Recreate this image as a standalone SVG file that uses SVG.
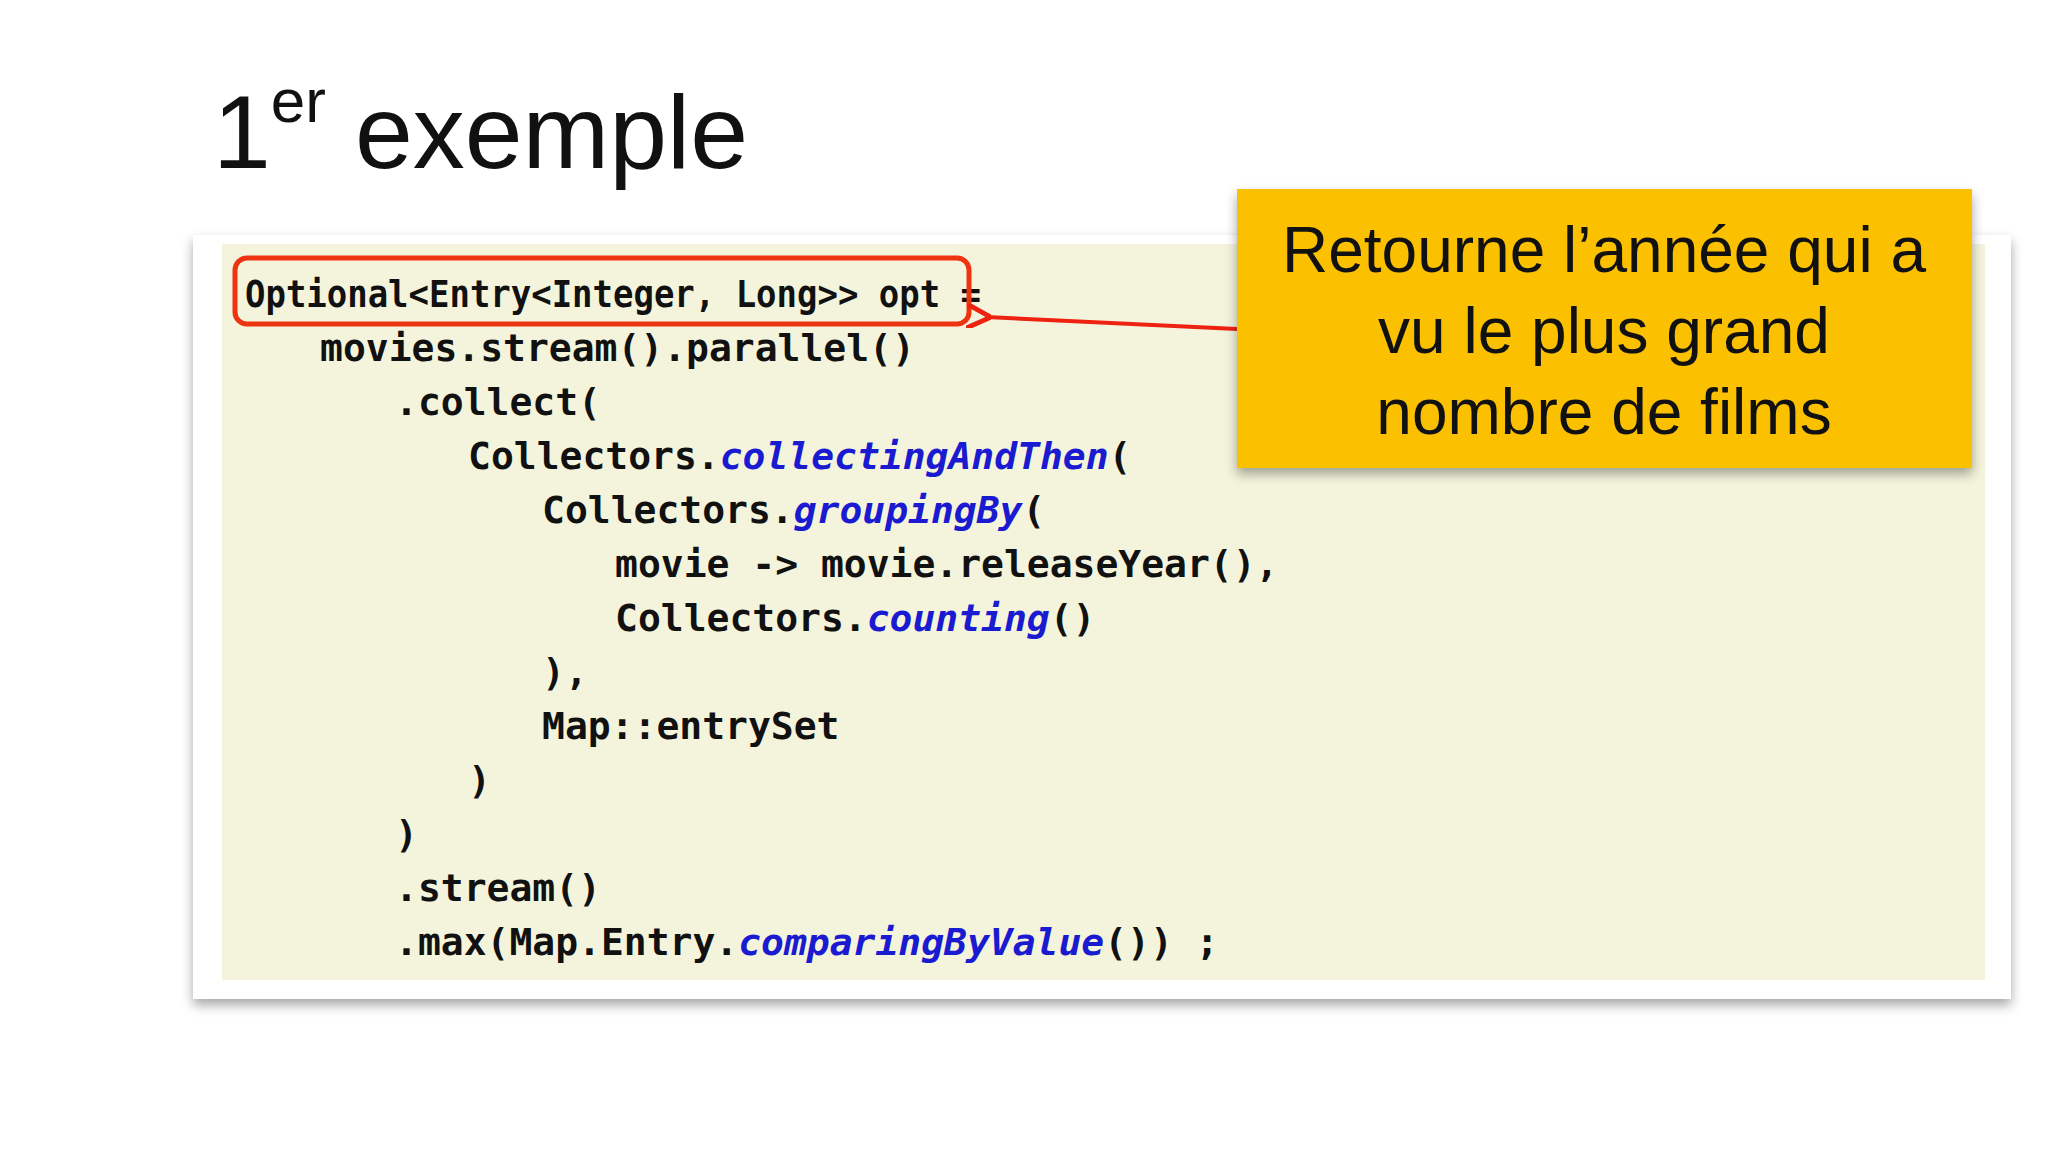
<svg xmlns="http://www.w3.org/2000/svg" width="2048" height="1152" viewBox="0 0 2048 1152">
<defs>
<style>
.code{font-family:"DejaVu Sans Mono","Liberation Mono",monospace;font-weight:bold;font-size:38px;fill:#111}
.m{fill:#1a1ad0;font-style:italic}
.note{font-family:"Liberation Sans",Arial,sans-serif;font-size:64px;fill:#111;text-anchor:middle}
</style>
<filter id="sh" x="-5%" y="-5%" width="110%" height="115%"><feDropShadow dx="0" dy="6" stdDeviation="6" flood-color="#000" flood-opacity="0.35"/></filter>
<marker id="ar" viewBox="0 0 10 10" refX="2" refY="5" markerWidth="6" markerHeight="6" orient="auto"><path d="M10,0 L0,5 L10,10" fill="none" stroke="#ee2211" stroke-width="2"/></marker>
</defs>
<rect width="2048" height="1152" fill="#fff"/>
<text x="213" y="168" font-family="Liberation Sans,Arial,sans-serif" font-size="104" fill="#111">1<tspan font-size="62" dy="-46">er</tspan><tspan dy="46"> exemple</tspan></text>
<g id="panel">
<rect x="193" y="235" width="1818" height="764" fill="#fff" filter="url(#sh)"/>
<rect x="222" y="244" width="1763" height="736" fill="#f4f4dc"/>
</g>
<g id="code" class="code">
<text x="245" y="307" textLength="736" lengthAdjust="spacingAndGlyphs">Optional&lt;Entry&lt;Integer, Long&gt;&gt; opt =</text>
<text x="320" y="361">movies.stream().parallel()</text>
<text x="395" y="415">.collect(</text>
<text x="468" y="469">Collectors.<tspan class="m">collectingAndThen</tspan>(</text>
<text x="542" y="523">Collectors.<tspan class="m">groupingBy</tspan>(</text>
<text x="615" y="577">movie -&gt; movie.releaseYear(),</text>
<text x="615" y="631">Collectors.<tspan class="m">counting</tspan>()</text>
<text x="542" y="685">),</text>
<text x="542" y="739">Map::entrySet</text>
<text x="468" y="793">)</text>
<text x="395" y="847">)</text>
<text x="395" y="901">.stream()</text>
<text x="395" y="955">.max(Map.Entry.<tspan class="m">comparingByValue</tspan>()) ;</text>
</g>
<g id="highlight"><rect x="235" y="258" width="734" height="66" rx="12" fill="none" stroke="#ee3311" stroke-width="5"/></g>
<g id="connectors"><line x1="1237" y1="329" x2="986" y2="317" stroke="#ee2211" stroke-width="4" marker-end="url(#ar)"/></g>
<g id="note">
<rect x="1237" y="189" width="735" height="279" fill="#fbc102" filter="url(#sh)"/>
<text class="note" x="1604" y="272">Retourne l’année qui a</text>
<text class="note" x="1604" y="353">vu le plus grand</text>
<text class="note" x="1604" y="434">nombre de films</text>
</g>
</svg>
